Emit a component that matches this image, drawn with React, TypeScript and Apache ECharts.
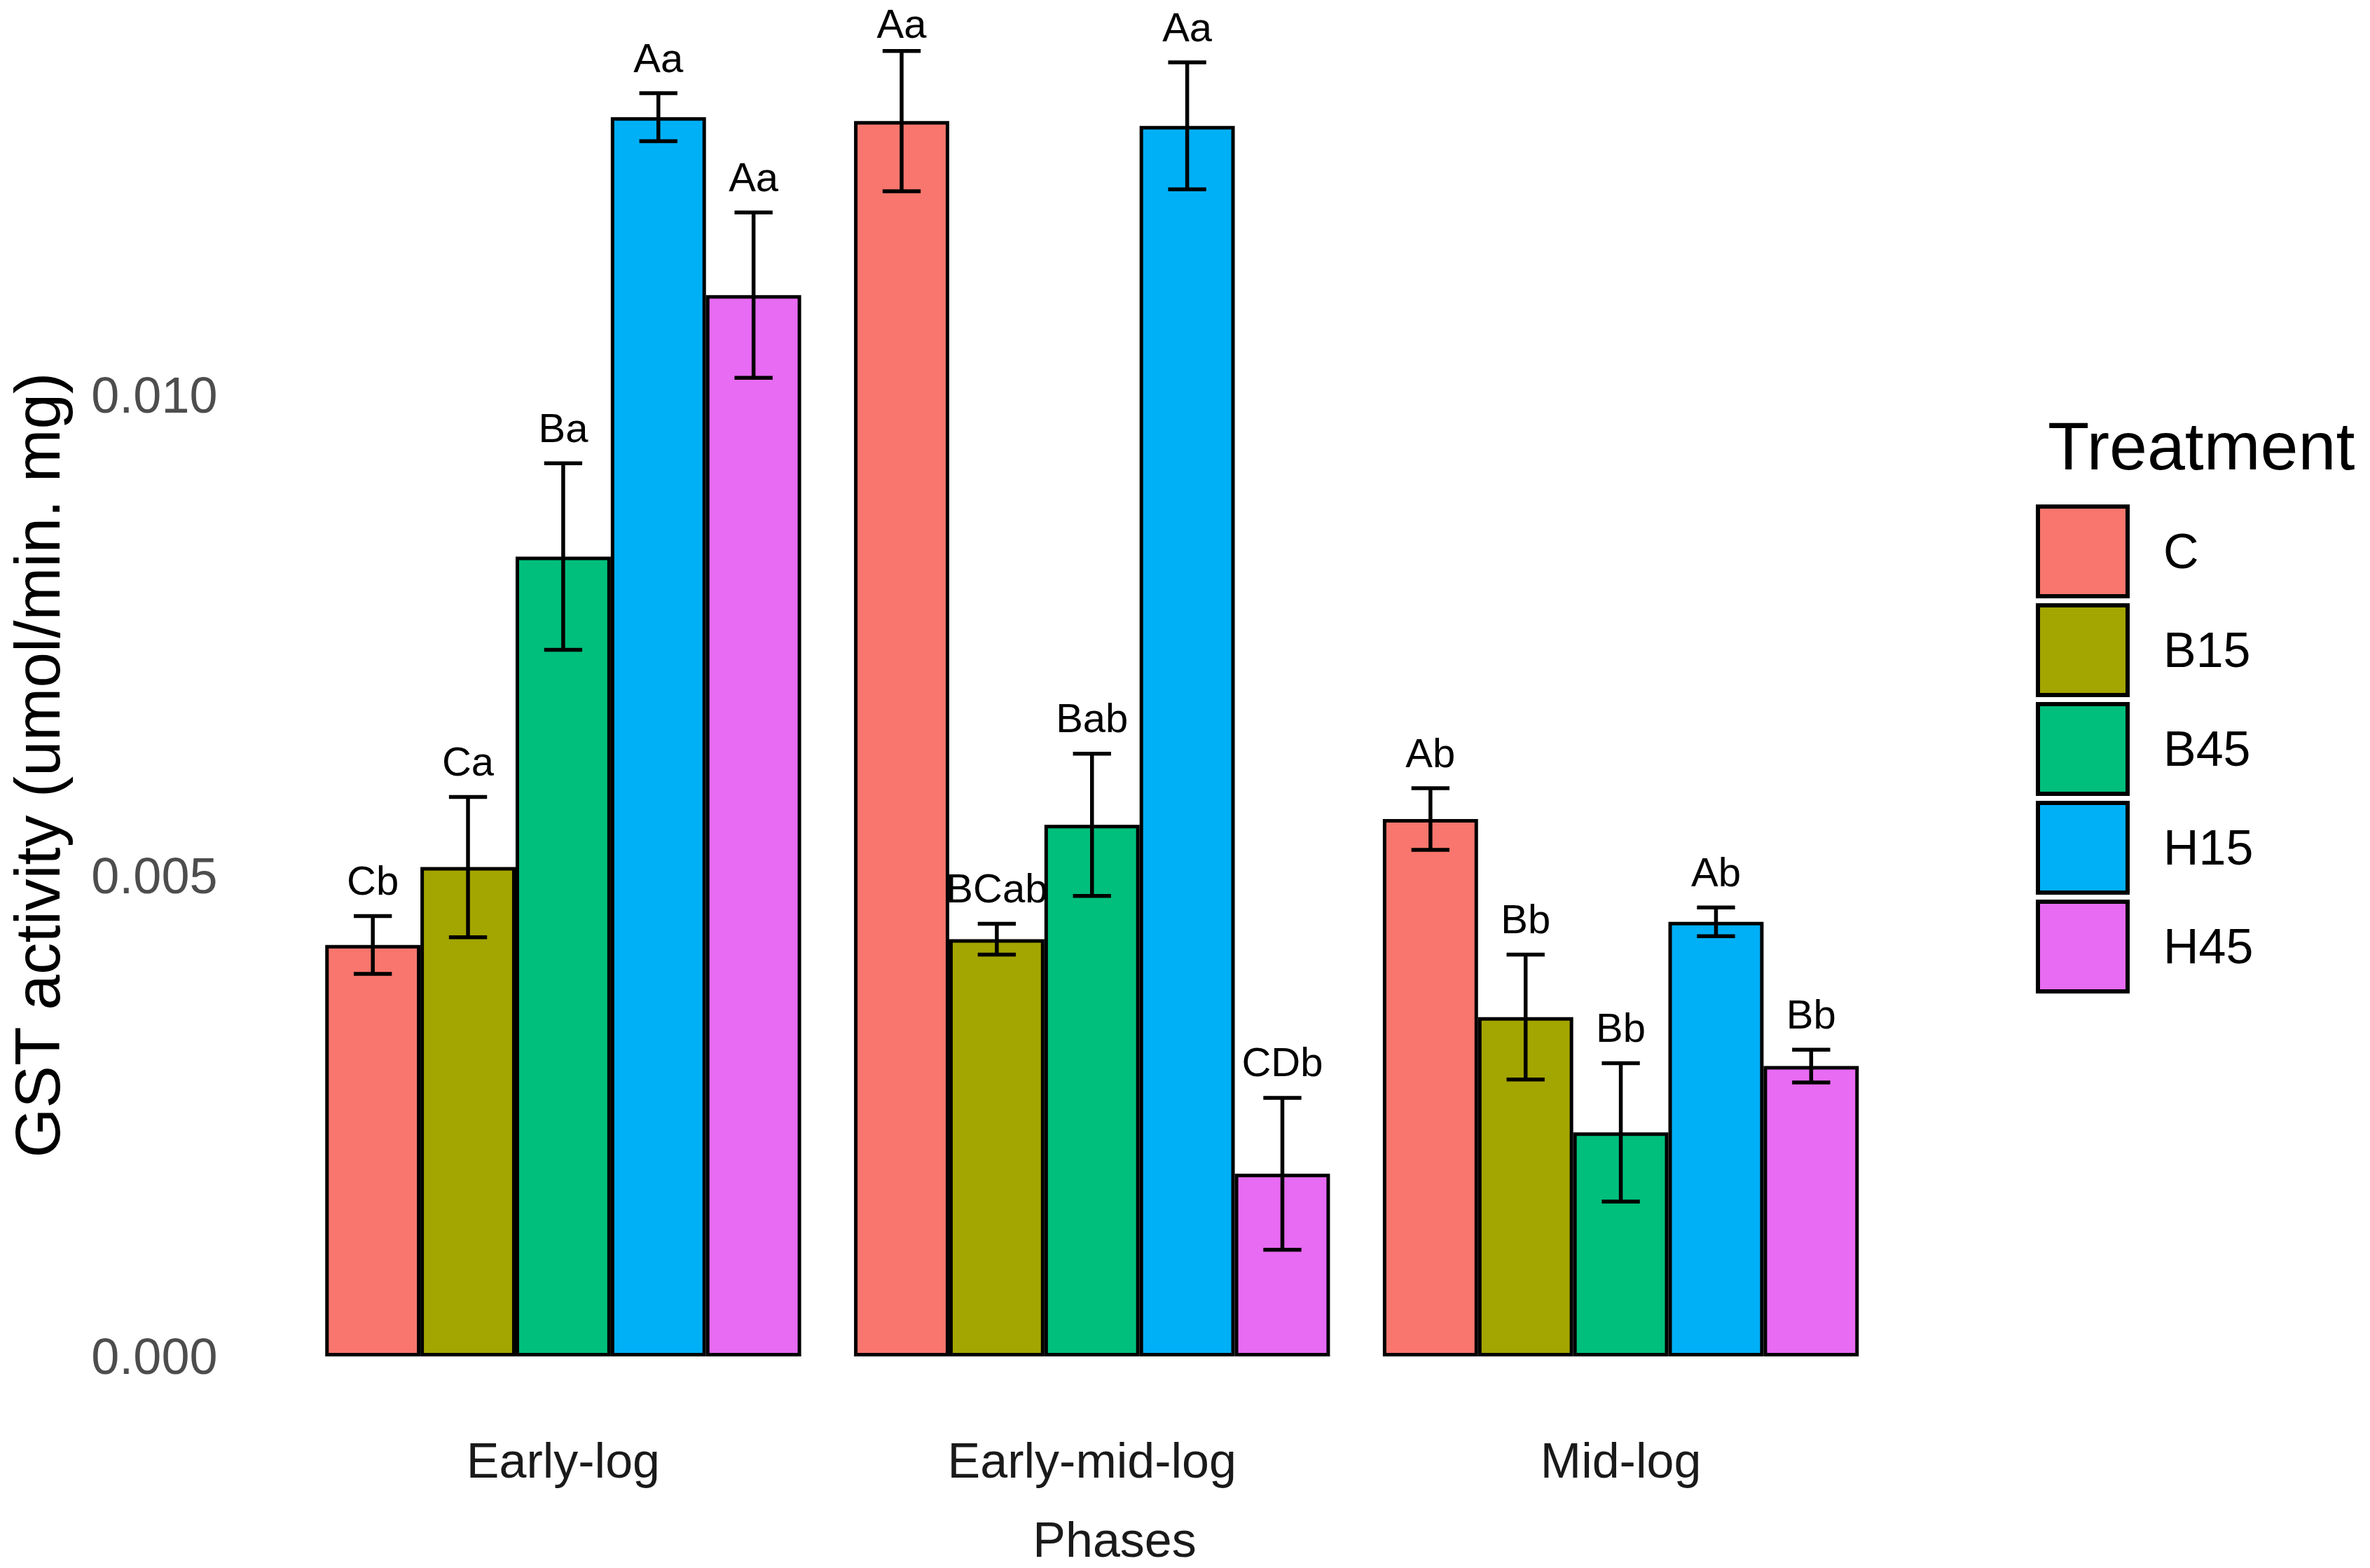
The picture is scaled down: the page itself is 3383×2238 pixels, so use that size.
import React, { useEffect, useRef } from "react";
import * as echarts from "echarts";

const phases = ["Early-log", "Early-mid-log", "Mid-log"];
const treatments = ["C", "B15", "B45", "H15", "H45"];
const colors = ["#F8766D", "#A3A500", "#00BF7D", "#00B0F6", "#E76BF3"];

// mean GST activity per treatment, one value per phase
const meanC = [0.00428, 0.01285, 0.00559];
const meanB15 = [0.00509, 0.00434, 0.00353];
const meanB45 = [0.00832, 0.00553, 0.00233];
const meanH15 = [0.01289, 0.0128, 0.00452];
const meanH45 = [0.01104, 0.0019, 0.00302];

// standard errors
const seC = [0.0003, 0.00073, 0.00032];
const seB15 = [0.00073, 0.00016, 0.00065];
const seB45 = [0.00097, 0.00074, 0.00072];
const seH15 = [0.00025, 0.00066, 0.00015];
const seH45 = [0.00086, 0.00079, 0.00017];

// significance letters
const letC = ["Cb", "Aa", "Ab"];
const letB15 = ["Ca", "BCab", "Bb"];
const letB45 = ["Ba", "Bab", "Bb"];
const letH15 = ["Aa", "Aa", "Ab"];
const letH45 = ["Aa", "CDb", "Bb"];

const yMin = 0;
const yMax = 0.014;
const yInterval = 0.005;

const FONT = "'Liberation Sans', Arial, Helvetica, sans-serif";

export default function App() {
  const ref = useRef<HTMLDivElement>(null);

  useEffect(() => {
    if (!ref.current) return;
    const chart = echarts.init(ref.current, undefined, { renderer: "svg" });

    const means = [meanC, meanB15, meanB45, meanH15, meanH45];
    const ses = [seC, seB15, seB45, seH15, seH45];
    const lets = [letC, letB15, letB45, letH15, letH45];

    const errData: number[][] = [];
    const errLabels: string[] = [];
    for (let t = 0; t < treatments.length; t++) {
      for (let c = 0; c < phases.length; c++) {
        errData.push([c, t, means[t][c], ses[t][c]]);
        errLabels.push(lets[t][c]);
      }
    }

    const barSeries = treatments.map((name, i) => ({
      name,
      type: "bar",
      data: means[i],
      barGap: "0%",
      barCategoryGap: "10%",
      itemStyle: { color: colors[i], borderColor: "#000", borderWidth: 5 },
      z: 2,
    }));

    const legendGraphics: any[] = [];
    treatments.forEach((name, i) => {
      legendGraphics.push({
        type: "rect",
        shape: { x: 2909, y: 723 + i * 141, width: 128, height: 128 },
        style: { fill: colors[i], stroke: "#000", lineWidth: 6 },
      });
      legendGraphics.push({
        type: "text",
        x: 3088,
        y: 787 + i * 141,
        style: {
          text: name,
          fill: "#000",
          fontSize: 70,
          fontFamily: FONT,
          align: "left",
          verticalAlign: "middle",
        },
      });
    });

    const option: any = {
      animation: false,
      backgroundColor: "#fff",
      grid: { left: 426.5, right: 692, top: 15, bottom: 302 },
      xAxis: {
        type: "category",
        data: phases,
        axisLine: { show: false },
        axisTick: { show: false },
        axisLabel: {
          fontSize: 70,
          fontFamily: FONT,
          color: "#1a1a1a",
          margin: 114,
        },
        splitLine: { show: false },
      },
      yAxis: {
        type: "value",
        min: yMin,
        max: yMax,
        interval: yInterval,
        axisLine: { show: false },
        axisTick: { show: false },
        splitLine: { show: false },
        axisLabel: {
          fontSize: 72,
          fontFamily: FONT,
          color: "#4D4D4D",
          margin: 116,
          showMaxLabel: false,
          formatter: (v: number) => v.toFixed(3),
        },
      },
      series: [
        ...barSeries,
        {
          type: "custom",
          name: "err",
          data: errData,
          encode: { x: 0, y: 2 },
          z: 5,
          renderItem: (params: any, api: any) => {
            const cat = api.value(0);
            const t = api.value(1);
            const m = api.value(2);
            const s = api.value(3);
            const center = api.coord([cat, 0])[0];
            const band = api.size([1, 0])[0];
            const bw = (band * 0.9) / treatments.length;
            const cx = center - band * 0.45 + (t + 0.5) * bw;
            const yTop = api.coord([cat, m + s])[1];
            const yBot = api.coord([cat, m - s])[1];
            const hw = bw * 0.2;
            const ls = { stroke: "#000", lineWidth: 5.5 };
            return {
              type: "group",
              children: [
                { type: "line", shape: { x1: cx, y1: yTop, x2: cx, y2: yBot }, style: ls },
                { type: "line", shape: { x1: cx - hw, y1: yTop, x2: cx + hw, y2: yTop }, style: ls },
                { type: "line", shape: { x1: cx - hw, y1: yBot, x2: cx + hw, y2: yBot }, style: ls },
                {
                  type: "text",
                  x: cx,
                  y: Math.max(yTop - 22, 62),
                  style: {
                    text: errLabels[params.dataIndex],
                    fill: "#000",
                    fontSize: 58,
                    lineHeight: 58,
                    fontFamily: FONT,
                    align: "center",
                    verticalAlign: "bottom",
                  },
                },
              ],
            };
          },
        },
      ],
      graphic: [
        {
          type: "text",
          x: 53,
          y: 1092,
          rotation: Math.PI / 2,
          style: {
            text: "GST activity (umol/min. mg)",
            fill: "#000",
            fontSize: 91,
            lineHeight: 84,
            fontFamily: FONT,
            align: "center",
            verticalAlign: "middle",
          },
        },
        {
          type: "text",
          x: 1591,
          y: 2198,
          style: {
            text: "Phases",
            fill: "#1a1a1a",
            fontSize: 70,
            lineHeight: 64,
            fontFamily: FONT,
            align: "center",
            verticalAlign: "middle",
          },
        },
        {
          type: "text",
          x: 2923,
          y: 636,
          style: {
            text: "Treatment",
            fill: "#000",
            fontSize: 97,
            fontFamily: FONT,
            align: "left",
            verticalAlign: "middle",
          },
        },
        ...legendGraphics,
      ],
    };

    chart.setOption(option);
    return () => chart.dispose();
  }, []);

  return (
    <div
      ref={ref}
      style={{ position: "absolute", left: 0, top: 0, width: 3383, height: 2238, background: "#fff" }}
    />
  );
}
